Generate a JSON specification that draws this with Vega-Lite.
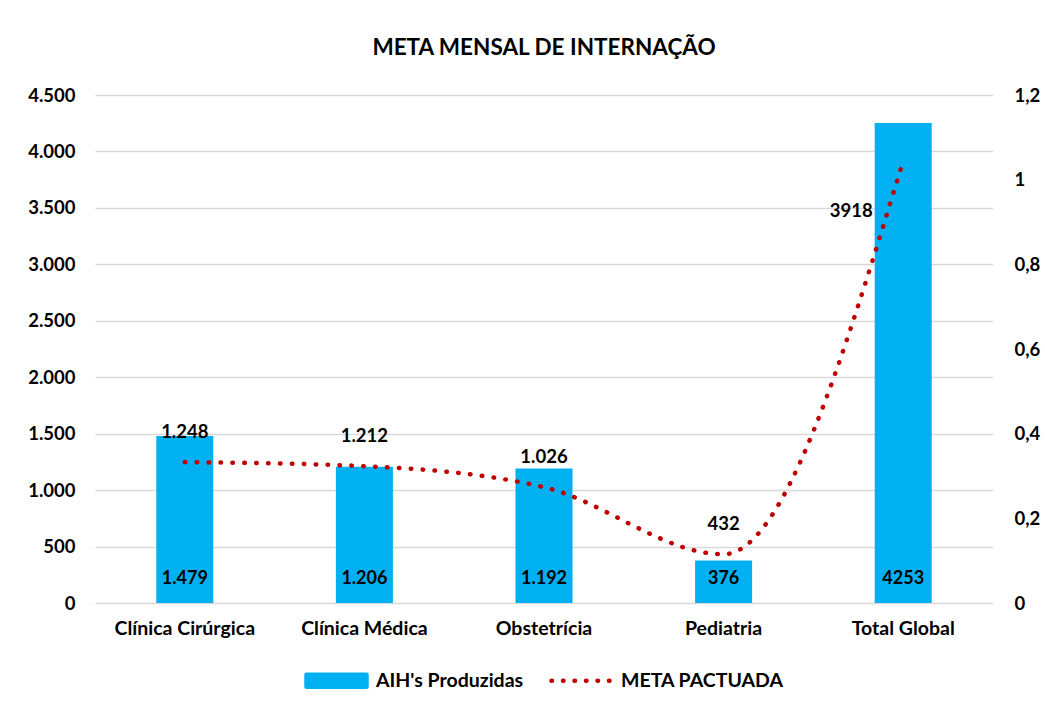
{
  "$schema": "https://vega.github.io/schema/vega-lite/v6.json",
  "width": 898,
  "height": 508,
  "autosize": {"type": "none"},
  "padding": {"left": 95, "top": 95, "right": 52, "bottom": 108},
  "background": "white",
  "config": {
    "view": {"stroke": null},
    "font": "Lato",
    "axis": {"labelFont": "Lato", "labelFontWeight": "bold", "labelFontSize": 18.5, "labelColor": "#000000"},
    "legend": {"labelFont": "Lato", "labelFontWeight": "bold", "labelFontSize": 19.5, "labelColor": "#000000", "labelLimit": 400,
               "layout": {"bottom": {"anchor": "middle"}}}
  },
  "title": {"text": "META MENSAL DE INTERNAÇÃO", "font": "Lato", "fontSize": 22.5, "fontWeight": "bold", "color": "#000000", "anchor": "middle", "offset": 27},
  "data": {"values": [
    {"cat": "Clínica Cirúrgica", "aih": 1479, "meta": 1248, "aih_label": "1.479", "meta_label": "1.248"},
    {"cat": "Clínica Médica", "aih": 1206, "meta": 1212, "aih_label": "1.206", "meta_label": "1.212"},
    {"cat": "Obstetrícia", "aih": 1192, "meta": 1026, "aih_label": "1.192", "meta_label": "1.026"},
    {"cat": "Pediatria", "aih": 376, "meta": 432, "aih_label": "376", "meta_label": "432"},
    {"cat": "Total Global", "aih": 4253, "meta": 3918, "aih_label": "4253", "meta_label": "3918"}
  ]},
  "resolve": {"scale": {"y": "independent"}},
  "layer": [
    {
      "encoding": {
        "x": {"field": "cat", "type": "nominal", "sort": null, "title": null,
              "scale": {"paddingInner": 0, "paddingOuter": 0},
              "axis": {"labelAngle": 0, "domain": false, "ticks": false, "labelPadding": 16, "labelFontSize": 19.5}}
      },
      "layer": [
        {
          "mark": {"type": "bar", "size": 57},
          "encoding": {
            "y": {"field": "aih", "type": "quantitative", "title": null,
                  "scale": {"domain": [0, 4500], "nice": false},
                  "axis": {"values": [0, 500, 1000, 1500, 2000, 2500, 3000, 3500, 4000, 4500],
                           "labelExpr": "replace(format(datum.value, ','), ',', '.')",
                           "domain": false, "ticks": false, "labelPadding": 20,
                           "gridColor": "#D9D9D9", "gridWidth": 1.3}},
            "color": {"datum": "AIH's Produzidas", "type": "nominal",
                      "scale": {"domain": ["AIH's Produzidas", "META PACTUADA"], "range": ["#00B0F0", "#C00000"]},
                      "legend": {"title": null, "orient": "bottom", "direction": "horizontal",
                                 "symbolSize": 3600, "labelOffset": 7, "columnPadding": 18, "offset": 10,
                                 "encode": {"symbols": {"update": {
                                   "shape": {"signal": "datum.value === 'META PACTUADA' ? 'M-1,-0.2M-1,0.2M-1,0H1' : 'M-1,-0.2H1V0.2H-1Z'"},
                                   "fill": {"signal": "datum.value === 'META PACTUADA' ? 'transparent' : '#00B0F0'"},
                                   "stroke": {"signal": "datum.value === 'META PACTUADA' ? '#C00000' : 'transparent'"},
                                   "strokeWidth": {"value": 4.5},
                                   "strokeCap": {"value": "round"},
                                   "strokeDash": {"signal": "datum.value === 'META PACTUADA' ? [0.5, 11] : [1, 0]"},
                                   "opacity": {"value": 1}
                                 }}}}}
          }
        },
        {
          "mark": {"type": "text", "fontWeight": "bold", "fontSize": 18, "font": "Lato", "color": "#000000", "baseline": "middle", "dy": -24},
          "encoding": {
            "y": {"datum": 0, "type": "quantitative"},
            "text": {"field": "aih_label"}
          }
        },
        {
          "mark": {"type": "line", "interpolate": "monotone", "strokeWidth": 4.5, "strokeCap": "round", "strokeDash": [0.5, 11.4]},
          "encoding": {
            "y": {"field": "meta", "type": "quantitative"},
            "color": {"datum": "META PACTUADA", "type": "nominal"}
          }
        },
        {
          "transform": [{"filter": "datum.cat !== 'Total Global'"}],
          "mark": {"type": "text", "fontWeight": "bold", "fontSize": 18.5, "font": "Lato", "color": "#000000", "baseline": "middle", "dy": -30},
          "encoding": {
            "y": {"field": "meta", "type": "quantitative"},
            "text": {"field": "meta_label"}
          }
        },
        {
          "transform": [{"filter": "datum.cat === 'Total Global'"}],
          "mark": {"type": "text", "fontWeight": "bold", "fontSize": 18.5, "font": "Lato", "color": "#000000", "baseline": "middle", "dx": -52, "dy": 50},
          "encoding": {
            "y": {"field": "meta", "type": "quantitative"},
            "text": {"field": "meta_label"}
          }
        }
      ]
    },
    {
      "mark": {"type": "rule", "opacity": 0},
      "encoding": {
        "y": {"datum": 0, "type": "quantitative", "title": null,
              "scale": {"domain": [0, 1.2], "nice": false},
              "axis": {"orient": "right", "values": [0, 0.2, 0.4, 0.6, 0.8, 1, 1.2],
                       "labelExpr": "replace(format(datum.value, '~g'), '.', ',')",
                       "grid": false, "domain": false, "ticks": false, "labelPadding": 21}}
      }
    }
  ]
}
